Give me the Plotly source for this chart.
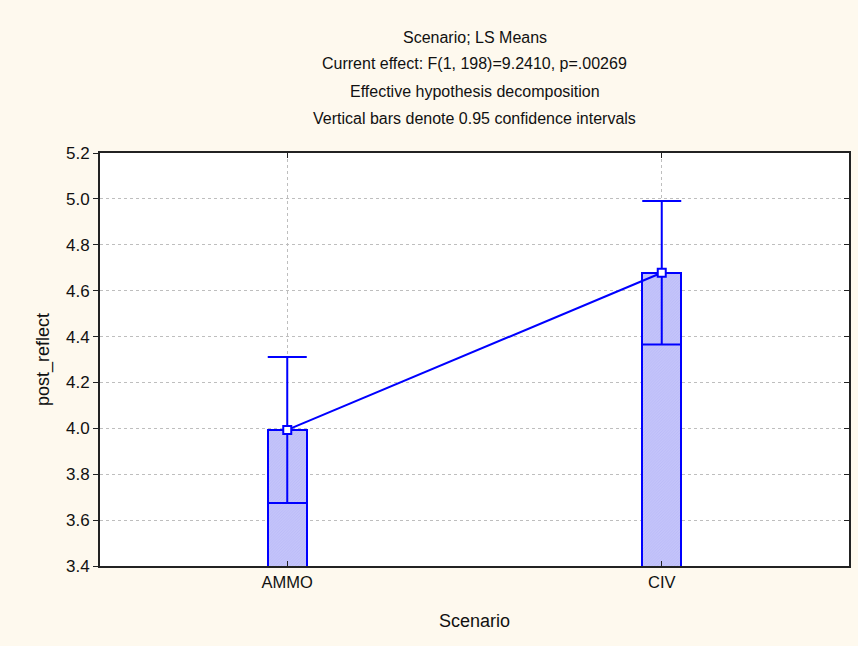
import plotly.graph_objects as go

# LS means of post_reflect by scenario, with 95% confidence half-widths
scenarios = ["AMMO", "CIV"]
ls_means = [3.993, 4.678]
ci_half = [0.318, 0.313]
y_ticks = [3.4, 3.6, 3.8, 4.0, 4.2, 4.4, 4.6, 4.8, 5.0, 5.2]

title_lines = [
    "Scenario; LS Means",
    "Current effect: F(1, 198)=9.2410, p=.00269",
    "Effective hypothesis decomposition",
    "Vertical bars denote 0.95 confidence intervals",
]

BLUE = "#0000FF"
INK = "#111111"
FONT = "Liberation Sans, Arial, sans-serif"
Y_RANGE = [3.4, 5.2]

fig = go.Figure()

# hatched bars from the axis floor up to each mean
fig.add_trace(go.Bar(
    x=scenarios, y=ls_means, width=0.104,
    marker=dict(
        color="#C4C4FA",
        line=dict(color=BLUE, width=2),
        pattern=dict(shape="/", size=2, solidity=0.3,
                     fgcolor="#A8A8F2", fillmode="overlay"),
    ),
    showlegend=False, hoverinfo="skip",
))

# means joined by a line, with confidence interval whiskers
fig.add_trace(go.Scatter(
    x=scenarios, y=ls_means, mode="lines+markers",
    line=dict(color=BLUE, width=2),
    marker=dict(symbol="square", size=8, color="white",
                line=dict(color=BLUE, width=2)),
    error_y=dict(type="data", array=ci_half, visible=True,
                 color=BLUE, thickness=2, width=19.5),
    showlegend=False,
))

# invisible companion trace so the right-hand frame gets inward ticks
fig.add_trace(go.Scatter(
    x=scenarios, y=ls_means, yaxis="y2", mode="markers",
    marker=dict(opacity=0), hoverinfo="skip", showlegend=False,
))

annotations = []
title_y_px = [38, 64, 91, 118]
for text, py in zip(title_lines, title_y_px):
    annotations.append(dict(
        text=text, xref="paper", yref="paper",
        x=0.5, y=(566 - py) / 413, xanchor="center", yanchor="middle",
        showarrow=False, font=dict(family=FONT, size=16, color=INK),
    ))

fig.update_layout(
    width=858, height=646,
    margin=dict(l=100, r=7, t=153, b=80),
    paper_bgcolor="#FEF9EE",
    plot_bgcolor="white",
    font=dict(family=FONT, size=16, color=INK),
    annotations=annotations,
    bargap=0,
    yaxis2=dict(
        overlaying="y", side="right", range=Y_RANGE, tickvals=y_ticks,
        showticklabels=False, ticks="inside", ticklen=5,
        tickcolor="#222222", tickwidth=1, showgrid=False,
        showline=False, zeroline=False, fixedrange=True,
    ),
)

fig.update_xaxes(
    range=[-0.5, 1.5], type="category",
    showline=True, linecolor="#222222", linewidth=2, mirror="ticks",
    ticks="inside", ticklen=5, tickcolor="#222222", tickwidth=1,
    tickfont=dict(family=FONT, size=16.5, color=INK),
    showgrid=True, gridcolor="#BEBEBE", griddash="dot", gridwidth=1,
    title=dict(text="Scenario", standoff=25,
               font=dict(family=FONT, size=18, color=INK)),
    zeroline=False, fixedrange=True,
)
fig.layout.yaxis.update(
    range=Y_RANGE, tickvals=y_ticks,
    ticktext=[f"{v:.1f}" for v in y_ticks],
    showline=True, linecolor="#222222", linewidth=2, mirror=True,
    ticks="outside", ticklen=5, tickcolor="#222222", tickwidth=1,
    tickfont=dict(family=FONT, size=17, color=INK),
    showgrid=True, gridcolor="#BEBEBE", griddash="dot", gridwidth=1,
    title=dict(text="post_reflect", standoff=12,
               font=dict(family=FONT, size=18, color=INK)),
    zeroline=False, fixedrange=True,
)

fig.write_html("out.html")
